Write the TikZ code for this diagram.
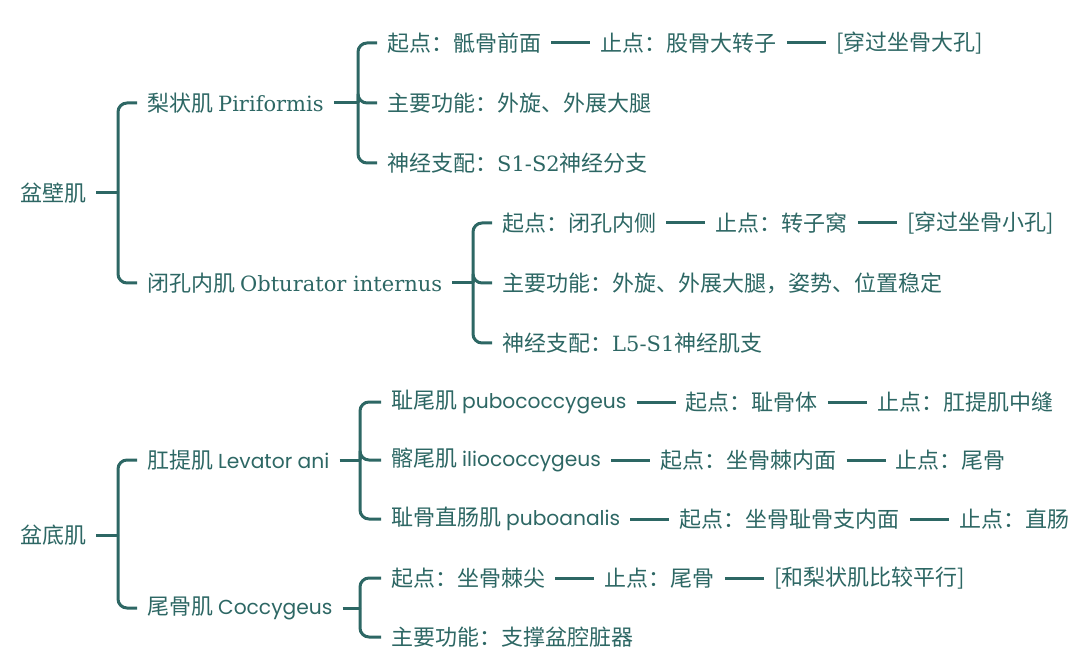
\documentclass[tikz,border=0pt]{standalone}
\usepackage{fontspec}
\setmainfont{Noto Sans CJK SC}
\newfontfamily\lserif{DejaVu Serif}[Scale=0.955]
\newfontfamily\lsans{Poppins}[Scale=0.92]
\usetikzlibrary{positioning}
\definecolor{teal}{HTML}{2D6764}
\tikzset{
  txt/.style={anchor=west, inner xsep=10pt, inner ysep=2pt, text=teal,
    font=\fontsize{22}{26}\selectfont},
  link/.style={draw=teal, line width=3pt, rounded corners=9pt, line cap=butt},
  chain/.style={right=39pt of #1},
}
\begin{document}
\begin{tikzpicture}[x=1pt,y=-1pt]
\useasboundingbox (0,0) rectangle (1080,663);
% 盆壁肌
\node[txt] (wall) at (10,193) {盆壁肌};
\node[txt] (pir) at (137,103) {梨状肌 {\lserif Piriformis}};
\node[txt] (pirA) at (377,43) {起点：骶骨前面};
\node[txt, chain=pirA] (pirB) {止点：股骨大转子};
\node[txt, chain=pirB] (pirC) {[穿过坐骨大孔]};
\node[txt] (pirF) at (377,103) {主要功能：外旋、外展大腿};
\node[txt] (pirN) at (377,163) {神经支配：{\lserif S1-S2}神经分支};
\node[txt] (obt) at (137,283) {闭孔内肌 {\lserif Obturator internus}};
\node[txt] (obtA) at (492,223) {起点：闭孔内侧};
\node[txt, chain=obtA] (obtB) {止点：转子窝};
\node[txt, chain=obtB] (obtC) {[穿过坐骨小孔]};
\node[txt] (obtF) at (492,283) {主要功能：外旋、外展大腿，姿势、位置稳定};
\node[txt] (obtN) at (492,343) {神经支配：{\lserif L5-S1}神经肌支};
% 盆底肌
\node[txt] (floor) at (10,535) {盆底肌};
\node[txt] (lev) at (137,460) {肛提肌 {\lsans Levator ani}};
\node[txt] (pub) at (381,402) {耻尾肌 {\lsans pubococcygeus}};
\node[txt, chain=pub] (pubA) {起点：耻骨体};
\node[txt, chain=pubA] (pubB) {止点：肛提肌中缝};
\node[txt] (ili) at (381,460) {髂尾肌 {\lsans iliococcygeus}};
\node[txt, chain=ili] (iliA) {起点：坐骨棘内面};
\node[txt, chain=iliA] (iliB) {止点：尾骨};
\node[txt] (pua) at (381,519) {耻骨直肠肌 {\lsans puboanalis}};
\node[txt, chain=pua] (puaA) {起点：坐骨耻骨支内面};
\node[txt, chain=puaA] (puaB) {止点：直肠};
\node[txt] (coc) at (137,608) {尾骨肌 {\lsans Coccygeus}};
\node[txt] (cocA) at (381,578) {起点：坐骨棘尖};
\node[txt, chain=cocA] (cocB) {止点：尾骨};
\node[txt, chain=cocB] (cocC) {[和梨状肌比较平行]};
\node[txt] (cocF) at (381,637) {主要功能：支撑盆腔脏器};
% brackets
\foreach \p/\bx/\kids in {wall/118/{pir,obt}, pir/358/{pirA,pirF,pirN},
    obt/473/{obtA,obtF,obtN}, floor/118/{lev,coc}, lev/360/{pub,ili,pua},
    coc/360/{cocA,cocF}}{
  \coordinate (bk) at (\bx,0);
  \draw[link] (\p.east) -- (\p.east -| bk);
  \foreach \k in \kids \draw[link] (\p.east -| bk) |- (\k.west);
}
% chains
\foreach \a/\b in {pirA/pirB, pirB/pirC, obtA/obtB, obtB/obtC, pub/pubA, pubA/pubB,
    ili/iliA, iliA/iliB, pua/puaA, puaA/puaB, cocA/cocB, cocB/cocC}
  \draw[link] (\a.east) -- (\b.west);
\end{tikzpicture}
\end{document}
